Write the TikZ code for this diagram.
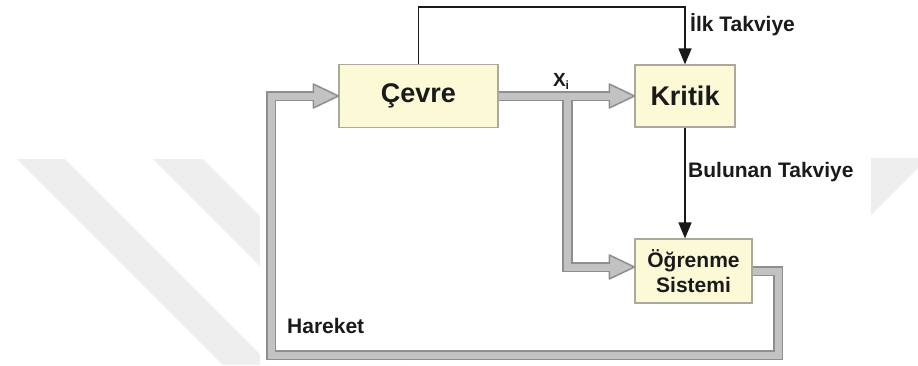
\documentclass[tikz,border=0pt]{standalone}
\usepackage{fontspec}
\setmainfont{Liberation Sans}
\usetikzlibrary{arrows.meta,calc}

\definecolor{boxfill}{HTML}{FCFAD6}
\definecolor{boxline}{HTML}{A9A99E}
\definecolor{gdark}{HTML}{8E8E8E}
\definecolor{glight}{HTML}{C2C2C2}
\definecolor{wmgray}{HTML}{EEEEEE}
\definecolor{ink}{HTML}{1A1A1A}

% filled head of a thick grey connector, tip at #1, pointing right
\newcommand\ghead[1]{%
  \filldraw[draw=gdark, fill=glight, line width=1.5pt, line join=round]
    ($(#1)+(-25,-12)$) -- (#1) -- ($(#1)+(-25,12)$) -- cycle;}

\begin{document}
\begin{tikzpicture}[x=1pt, y=-1pt,
  blk/.style={draw=boxline, line width=1.2pt, fill=boxfill, inner sep=0pt,
              text=ink, font=\bfseries\fontsize{27}{30}\selectfont},
  lbl/.style={inner sep=0pt, text=ink, font=\bfseries\fontsize{21}{25}\selectfont},
  gout/.style={draw=gdark, line width=10.5pt, line join=miter},
  gin/.style={draw=glight, line width=7pt, line join=miter},
  karrow/.style={draw=ink, line width=1.5pt,
                 -{Triangle[length=16pt, width=13pt]}}
]
\path[use as bounding box] (0,0) rectangle (918,365);

% faint background bands
\fill[wmgray] (17,159) -- (65,159) -- (271,365) -- (223,365) -- cycle;
\fill[wmgray] (153,159) -- (203,159) -- (409,365) -- (359,365) -- cycle;
\fill[wmgray] (860,158) -- (925,158) -- (925,161) -- (860,226) -- cycle;
\fill[white] (260,0) rectangle (871,365);

% blocks
\node[blk, minimum width=159pt, minimum height=63pt] (cevre) at (418.5,96) {Çevre};
\node[blk, minimum width=100pt, minimum height=62pt] (kritik) at (685,96) {Kritik};
\node[blk, minimum width=117pt, minimum height=64pt, align=center,
      font=\bfseries\fontsize{21}{25}\selectfont] (ogr) at (693.5,271) {Öğrenme\\Sistemi};

% helper points of the grey signal paths
\coordinate (br) at ($(cevre.east)+(69,0)$);
\coordinate (oin) at ($(ogr.west)+(0,-4)$);
\coordinate (rc) at (778,355);
\coordinate (lc) at (271,355);

% grey paths: outlines, heads, then light cores
\draw[gout] (cevre.east) -- ($(kritik.west)+(-22,0)$);
\draw[gout] (br) |- ($(oin)+(-22,0)$);
\draw[gout] (ogr.east) -| (rc) -- (lc) |- ($(cevre.west)+(-22,0)$);
\ghead{kritik.west}
\ghead{oin}
\ghead{cevre.west}
\draw[gin] (cevre.east) -- ($(kritik.west)+(-22,0)$);
\draw[gin] (br) |- ($(oin)+(-22,0)$);
\draw[gin] (ogr.east) -| (rc) -- (lc) |- ($(cevre.west)+(-22,0)$);

% black reinforcement arrows
\coordinate (topy) at (0,7);
\draw[karrow] (cevre.north) |- (kritik.north |- topy) -- (kritik.north);
\draw[karrow] (kritik.south) -- (kritik.south |- ogr.north);

% labels
\node[lbl, anchor=west] (ilk) at (690,25) {İlk Takviye};
\node[lbl, anchor=west] (bul) at (688,172) {Bulunan Takviye};
\node[lbl, anchor=west] (har) at (287,326) {Hareket};
\node[lbl] (xi) at (561,81) {\fontsize{19}{19}\selectfont X\raisebox{-3pt}{\fontsize{12}{12}\selectfont i}};
\end{tikzpicture}
\end{document}
